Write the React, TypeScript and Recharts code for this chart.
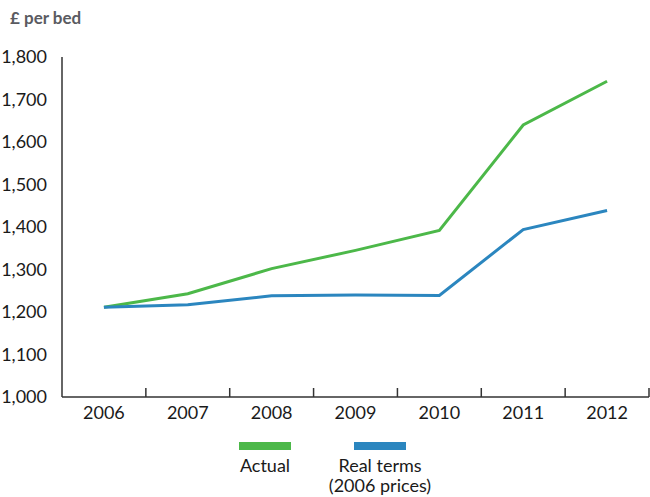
import React from "react";
import { LineChart, Line, XAxis, YAxis, Legend } from "recharts";

const years = ["2006", "2007", "2008", "2009", "2010", "2011", "2012"];
const actual = [1211, 1243, 1302, 1345, 1392, 1640, 1743];
const realTerms = [1211, 1217, 1238, 1240, 1239, 1394, 1439];
const yTicks = [1000, 1100, 1200, 1300, 1400, 1500, 1600, 1700, 1800];

const GREEN = "#4cb849";
const BLUE = "#2b86bf";
const AXIS = "#333333";
const FONT = "Lato, 'Open Sans', sans-serif";

const data = years.map((year, i) => ({
  year,
  actual: actual[i],
  real: realTerms[i],
}));

const fmt = (v: number) => v.toLocaleString("en-GB");

// Category label plus a short upward tick at the right edge of each band
const YearTick = (props: any) => {
  const { x, y, payload, width, visibleTicksCount } = props;
  const half = width / (2 * visibleTicksCount);
  return (
    <g>
      <line x1={x + half} x2={x + half} y1={y} y2={y - 9} stroke={AXIS} strokeWidth={1.5} />
      <text x={x} y={y + 22} textAnchor="middle" fill="#1a1a1a" fontSize={18} fontFamily={FONT}>
        {payload.value}
      </text>
    </g>
  );
};

const LegendBox = () => (
  <div style={{ display: "flex", justifyContent: "center", fontFamily: FONT, fontSize: 18, color: "#1a1a1a" }}>
    <div style={{ width: 115, display: "flex", flexDirection: "column", alignItems: "center", marginLeft: -4 }}>
      <div style={{ width: 52, height: 8, background: GREEN, marginBottom: 5 }} />
      <div style={{ lineHeight: "20px" }}>Actual</div>
    </div>
    <div style={{ width: 115, display: "flex", flexDirection: "column", alignItems: "center" }}>
      <div style={{ width: 52, height: 8, background: BLUE, marginBottom: 5 }} />
      <div style={{ lineHeight: "20px", textAlign: "center" }}>
        Real terms
        <br />
        (2006 prices)
      </div>
    </div>
  </div>
);

export default function App() {
  return (
    <div style={{ position: "absolute", left: 0, top: 0, width: 650, height: 497, background: "#fff" }}>
      <div
        style={{
          position: "absolute",
          left: 10,
          top: 7,
          fontFamily: FONT,
          fontWeight: 700,
          fontSize: 17,
          color: "#5a5b61",
        }}
      >
        £ per bed
      </div>
      <LineChart width={650} height={497} data={data} margin={{ top: 57, right: 1, left: 0, bottom: 0 }}>
        <XAxis
          dataKey="year"
          scale="band"
          height={30}
          stroke={AXIS}
          strokeWidth={1.5}
          tickLine={false}
          tickSize={0}
          tickMargin={0}
          tick={<YearTick />}
          interval={0}
        />
        <YAxis
          domain={[1000, 1800]}
          ticks={yTicks}
          width={62}
          stroke={AXIS}
          strokeWidth={1.5}
          tickLine={false}
          tickMargin={9}
          tickFormatter={fmt}
          tick={{ fill: "#1a1a1a", fontSize: 18, fontFamily: FONT }}
          interval={0}
        />
        <Legend verticalAlign="bottom" height={70} content={() => <div style={{ paddingTop: 15 }}><LegendBox /></div>} />
        <Line dataKey="actual" stroke={GREEN} strokeWidth={3} dot={false} isAnimationActive={false} />
        <Line dataKey="real" stroke={BLUE} strokeWidth={3} dot={false} isAnimationActive={false} />
      </LineChart>
    </div>
  );
}
